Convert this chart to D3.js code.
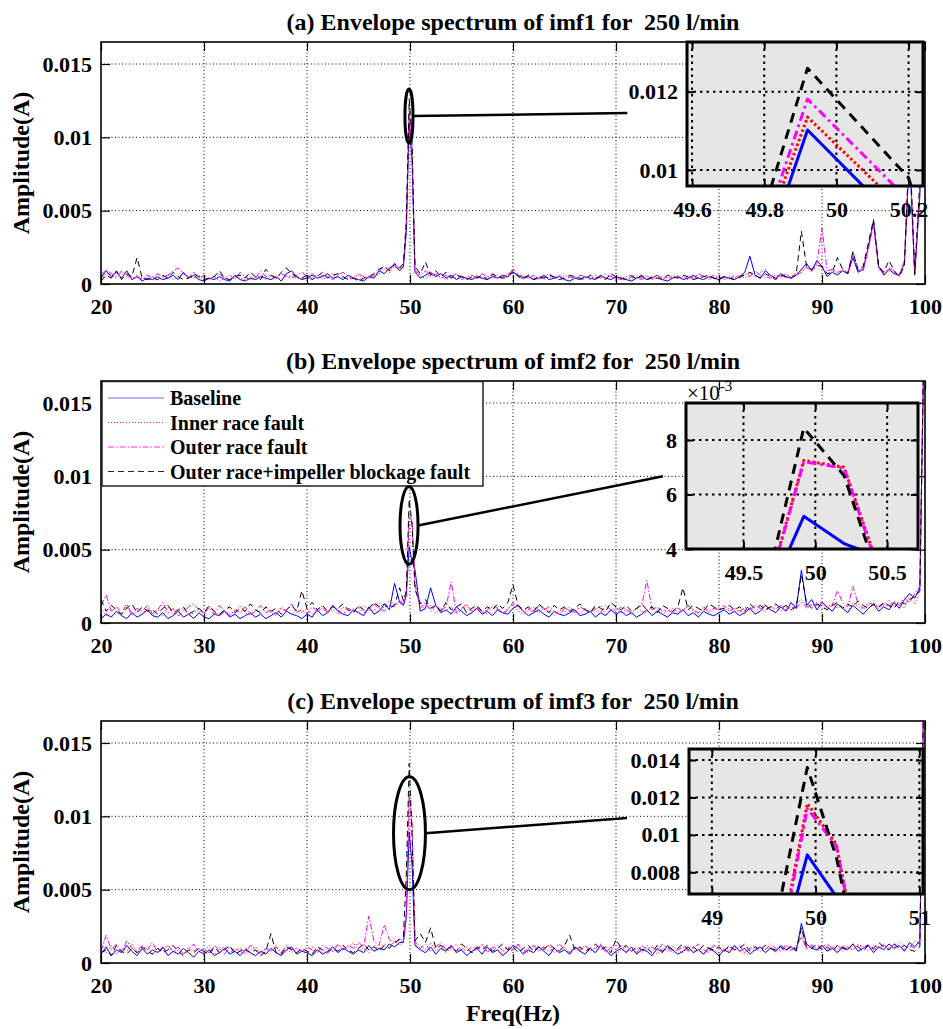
<!DOCTYPE html>
<html><head><meta charset="utf-8">
<script src="https://cdn.jsdelivr.net/npm/d3@7/dist/d3.min.js"></script>
<style>
body{margin:0;background:#fff;}
text{font-family:"Liberation Serif","Times New Roman",serif;}
</style>
</head><body>
<script>
// ---------------- DATA ----------------
const seriesNames = ["Baseline","Inner race fault","Outer race fault","Outer race+impeller blockage fault"];
const titles = ["(a) Envelope spectrum of imf1 for  250 l/min","(b) Envelope spectrum of imf2 for  250 l/min","(c) Envelope spectrum of imf3 for  250 l/min"];
const xTicks = [20,30,40,50,60,70,80,90,100];
const yTicks = [0,0.005,0.01,0.015];
const yTickLabels = ["0","0.005","0.01","0.015"];

// frequency bins (Hz): 0.5 Hz grid away from the 50 Hz line, fine bins around it
const freqLow = d3.range(20, 49.01, 0.5);
const freqPeak = [49.36, 49.64, 49.92, 50.20, 50.48];
const freqHigh = d3.range(51, 100.01, 0.5);
const freq = freqLow.concat(freqPeak, freqHigh);

// amplitudes in units of 1e-4 A  (low | peak | high)
const baseline1 = [
4,9,5,8,4,9,3,5,2,4, 3,5,3,4,6,3,8,4,6,3, 2,4,3,5,3,2,6,3,2,4, 3,5,4,3,5,2,7,9,5,3, 4,6,4,5,7,4,5,3,6,4, 3,2,5,4,9,7,11,13,9,
12,35,110.2,84.2,8,
4,6,8,5,7,4,6,3,5,4, 3,5,4,3,5,4,6,5,8,6, 4,5,3,4,6,3,4,5,3,2, 4,3,5,4,3,6,4,3,5,4, 3,2,4,5,3,4,6,3,2,4,
5,3,4,6,4,3,5,4,3,5, 4,3,5,8,19,6,4,9,6,4, 7,5,4,6,10,14,9,16,12,5, 8,6,9,7,18,8,10,25,43,12, 6,10,7,6,14,90,6,60,220];
const inner1 = [
3,7,6,4,8,5,3,6,4,3, 5,3,4,6,3,5,7,5,4,6, 3,4,5,2,4,3,5,4,3,5, 4,6,3,5,4,3,6,5,4,3, 5,4,6,3,5,7,4,5,3,4, 6,3,4,5,7,10,8,12,10,
11,43,113.5,88.7,9,
5,4,7,6,5,3,5,4,6,3, 4,6,3,5,4,6,3,5,9,5, 3,6,4,5,3,5,4,3,6,4, 5,3,4,6,3,5,4,6,3,5, 4,3,5,4,6,3,4,5,3,6,
4,5,3,5,4,6,3,4,5,3, 5,4,6,4,7,5,8,10,5,4, 6,4,5,8,9,12,8,13,11,6, 9,7,10,8,20,9,11,26,42,11, 7,9,8,5,15,92,7,62,230];
const outer1 = [
6,10,7,5,9,6,4,5,3,6, 4,7,5,6,9,11,7,5,8,4, 6,3,5,7,4,6,3,8,5,3, 4,9,5,6,4,7,5,4,6,8, 5,7,4,6,5,3,6,8,5,4, 7,5,4,6,9,12,10,13,11,
13,41,118.1,92.3,10,
6,9,5,7,4,6,5,7,3,5, 6,4,7,5,6,4,5,7,10,7, 5,4,6,3,5,7,4,6,3,5, 4,6,5,3,6,4,7,5,4,3, 5,6,4,3,5,4,6,3,5,4,
6,3,5,4,7,5,4,6,4,5, 3,6,4,7,5,9,6,5,4,6, 5,7,4,6,8,11,10,14,38,9, 10,8,9,7,22,10,9,24,40,10, 8,11,9,6,16,95,8,65,240];
const blockage1 = [
2,6,4,9,3,7,5,18,4,3, 4,3,6,4,8,5,3,4,7,5, 3,4,5,9,4,3,5,6,4,8, 5,3,10,6,4,8,11,7,5,4, 6,3,5,8,4,6,7,5,3,4, 2,4,5,7,10,12,9,14,11,
14,42,126,98,12,
7,15,6,9,5,8,4,6,5,3, 5,4,6,3,7,5,4,6,9,5, 4,6,3,5,4,6,5,3,4,6, 5,4,3,6,4,5,3,7,5,4, 3,5,4,6,3,5,4,3,6,5,
4,6,5,3,4,5,6,4,3,5, 4,3,5,6,8,6,4,7,5,3, 6,5,4,7,36,12,10,13,12,7, 8,18,10,7,22,9,12,28,44,12, 8,16,9,5,12,100,7,70,250];

const baseline2 = [
3,6,4,8,5,3,7,4,6,9, 5,4,7,3,5,8,4,6,3,7, 4,3,6,5,8,4,6,3,5,7, 4,6,3,5,7,4,8,6,5,3, 6,4,9,5,7,12,8,6,5,9, 7,5,11,6,8,13,9,27,14,
12,18.6,52,42,36.5,
8,10,24,12,7,9,6,11,8,5, 7,10,6,8,5,9,7,6,10,12, 8,5,7,9,6,4,8,6,5,7, 9,5,6,8,4,7,5,9,6,8, 5,7,4,6,9,5,8,6,4,7,
6,9,5,7,4,8,6,5,7,9, 6,8,5,7,10,6,8,12,9,7, 11,8,14,10,36,12,16,9,14,11, 8,13,10,7,12,9,6,10,13,8, 11,9,14,10,16,20,17,24,230];
const inner2 = [
10,5,9,7,6,11,5,8,6,10, 7,9,5,12,6,8,10,5,7,9, 6,11,7,5,9,6,8,12,7,5, 9,6,10,7,5,11,8,6,9,7, 10,6,8,12,7,9,6,11,8,10, 7,12,9,8,14,10,16,12,15,
14,20,72.5,70,27,
14,9,12,7,10,8,11,6,9,12, 7,10,8,6,11,9,7,10,13,8, 6,9,11,7,10,8,5,9,7,11, 8,6,10,7,9,12,6,8,11,7, 9,6,10,8,7,11,9,6,8,10,
7,9,12,8,6,10,7,9,11,8, 10,7,9,6,11,8,10,13,9,12, 8,11,9,13,16,10,12,14,9,11, 13,10,12,8,14,11,9,12,15,10, 12,16,11,14,10,18,13,21,240];
const outer2 = [
12,19,8,11,7,13,6,10,8,12, 6,9,14,7,10,5,8,11,13,9, 7,10,6,12,8,5,9,7,11,6, 8,12,7,9,6,10,8,13,7,9, 6,11,8,10,7,12,9,6,10,8, 11,7,9,13,10,8,12,11,15,
13,19.5,72,69.7,26,
10,14,8,12,9,11,28,7,10,13, 8,11,7,9,12,10,6,9,14,11, 8,10,7,12,9,11,8,6,10,9, 7,11,9,8,10,7,12,9,8,11, 9,7,10,12,29,9,11,8,9,7,
10,8,12,9,7,11,8,10,9,12, 8,10,7,11,9,12,10,8,11,9, 12,9,11,10,14,11,13,12,15,10, 12,22,14,11,25,13,10,14,12,11, 13,11,15,12,17,14,20,25,250];
const blockage2 = [
16,8,12,9,6,10,13,7,11,8, 9,6,10,12,7,9,11,6,8,10, 7,12,8,6,9,11,7,10,8,13, 9,7,11,8,10,6,9,12,8,22, 10,14,9,12,8,11,10,13,9,7, 12,9,10,14,11,13,10,12,24,
15,22,84.4,67,23,
13,16,10,12,8,14,9,11,13,7, 10,12,8,11,9,13,10,14,26,12, 9,11,8,13,10,7,12,9,11,8, 10,13,9,7,12,10,8,14,11,9, 12,8,10,13,9,11,7,12,10,8,
11,24,9,12,10,8,13,11,9,10, 12,9,11,8,13,10,12,9,11,13, 10,12,9,11,33,14,10,13,11,9, 12,14,10,13,11,15,12,10,13,11, 14,12,10,15,13,16,18,22,245];

const baseline3 = [
6,11,5,9,7,12,8,5,10,6, 9,7,11,5,8,6,10,7,4,8, 6,9,5,7,10,6,8,5,9,7, 5,8,6,10,7,5,9,11,6,8, 7,5,9,6,8,11,7,10,8,6, 9,7,12,8,10,9,13,11,14,
14,31,89.3,67,12,
9,7,11,6,10,8,12,7,9,5, 8,10,6,11,7,9,5,8,12,10, 6,9,7,11,8,5,10,7,9,6, 11,8,6,10,7,12,9,5,8,10, 7,11,6,9,8,5,10,7,12,9,
6,8,11,7,9,6,10,8,5,9, 7,12,8,10,6,9,11,7,10,8, 12,9,11,8,27,13,10,9,12,8, 10,7,11,9,13,8,10,12,7,11, 9,13,10,12,8,14,11,15,240];
const inner3 = [
9,7,12,6,10,8,13,7,9,11, 6,10,8,12,7,9,6,11,8,10, 7,12,6,9,11,7,10,8,6,9, 11,7,10,8,12,6,9,7,10,8, 6,11,9,7,10,8,12,9,11,14, 8,10,7,12,9,13,11,15,12,
16,35,116.8,95,14,
12,9,14,8,11,7,10,13,9,11, 7,10,12,8,11,9,6,10,8,12, 9,7,11,8,10,12,7,9,11,6, 10,8,12,9,7,11,8,10,6,9, 11,8,10,7,12,9,6,10,8,11,
9,7,12,8,10,6,11,9,7,10, 8,11,9,6,10,12,8,9,11,7, 10,12,8,11,22,9,13,10,12,9, 11,8,12,10,9,13,11,8,12,10, 13,9,11,14,12,10,15,13,250];
const outer3 = [
8,19,9,13,7,15,10,8,12,9, 14,7,10,12,8,11,6,9,13,8, 10,7,12,9,6,11,8,10,7,12, 9,6,10,8,11,7,12,9,10,8, 11,9,7,12,10,8,13,9,12,10, 14,11,32,15,12,26,16,13,17,
15,33,114.1,94.1,13,
10,13,8,11,14,9,12,7,10,8, 11,9,13,7,10,12,8,11,9,13, 7,10,12,9,11,8,10,13,9,7, 11,9,12,8,10,13,7,11,9,12, 8,10,7,12,9,11,8,13,10,7,
9,11,8,10,13,9,7,12,10,8, 11,9,12,7,10,8,11,9,13,10, 8,12,9,11,18,10,12,8,11,13, 10,12,8,11,9,12,10,13,9,11, 12,10,13,11,9,12,10,14,260];
const blockage3 = [
7,9,5,12,8,6,10,7,11,8, 6,10,7,9,12,8,5,9,7,10, 8,6,11,7,9,12,6,8,10,7, 9,5,8,20,7,6,11,9,7,10, 8,6,11,9,7,10,8,12,9,7, 10,13,9,11,8,12,10,14,16,
18,60,136,88,15,
20,14,24,10,12,9,11,8,13,10, 7,11,9,12,8,10,13,9,11,7, 10,12,8,11,9,13,10,8,12,19, 9,11,8,10,13,9,11,7,16,10, 12,8,11,9,10,7,12,8,11,9,
10,13,9,11,8,12,10,9,11,8, 12,9,10,13,8,11,9,12,10,9, 11,8,12,9,24,11,10,13,9,11, 8,12,10,9,13,11,8,12,10,14, 11,9,13,10,12,9,8,11,245];

const panelSeries = [
  [baseline1, inner1, outer1, blockage1],
  [baseline2, inner2, outer2, blockage2],
  [baseline3, inner3, outer3, blockage3]
];

// zoom insets
const insetXDomain = [[49.586,50.24],[49.1,50.715],[48.78,51.035]];
const insetYDomain = [[0.00959,0.01327],[0.004,0.00936],[0.00684,0.01459]];
const insetXTicks = [[49.6,49.8,50,50.2],[49.5,50,50.5],[49,50,51]];
const insetXLabels = [["49.6","49.8","50","50.2"],["49.5","50","50.5"],["49","50","51"]];
const insetYTicks = [[0.01,0.012],[0.004,0.006,0.008],[0.008,0.01,0.012,0.014]];
const insetYLabels = [["0.01","0.012"],["4","6","8"],["0.008","0.01","0.012","0.014"]];
// zoom-region ellipse (data units) and connector end (data units)
const ellipseX = [[49.51,50.29],[49.03,50.78],[48.4,51.5]];
const ellipseY = [[0.0096,0.0133],[0.0040,0.0093],[0.0050,0.0127]];
const connectorEnd = [[71.1,0.01166],[74.56,0.0100],[71.07,0.00988]];

// ---------------- STYLE / LAYOUT ----------------
const W = 943, H = 1029, L = 101, R = 925;
const panelTop = [42, 381, 721], panelBottom = [284, 623, 963];
const insetBox = [{x0:687,x1:923,y0:42,y1:186},{x0:686,x1:918,y0:403,y1:549},{x0:689,x1:923,y0:749,y1:894}];
const colors = ["#0000ff","#ff0000","#ff00ff","#000000"];
const mainDash = [null,"1,2","6,2,1.5,2","6,4"];
const insetDash = [null,"2.5,2.5","9,4,2.5,4","10,7"];
const FONT = '"Liberation Serif","Times New Roman",serif';

const svg = d3.select("body").append("svg").attr("width",W).attr("height",H);
svg.append("rect").attr("width",W).attr("height",H).attr("fill","#fff");
const defs = svg.append("defs");

function styleAxis(sel, size, showText){
  sel.select(".domain").remove();
  sel.selectAll(".tick line").attr("stroke","#000").attr("stroke-width",1.2);
  sel.selectAll(".tick text").attr("fill","#000").style("font-family",FONT)
     .style("font-size",size+"px").style("font-weight","bold");
  if(!showText) sel.selectAll(".tick text").remove();
}

panelSeries.forEach((series, pi) => {
  const top = panelTop[pi], bot = panelBottom[pi];
  const x = d3.scaleLinear().domain([20,100]).range([L,R]);
  const y = d3.scaleLinear().domain([0,0.0165]).range([bot,top]);
  const g = svg.append("g");

  // grid
  g.append("g").selectAll("line").data(xTicks.filter(t=>t>20&&t<100)).join("line")
    .attr("x1",d=>x(d)).attr("x2",d=>x(d)).attr("y1",top).attr("y2",bot)
    .attr("stroke","#000").attr("stroke-width",1).attr("stroke-dasharray","1,2.5");
  g.append("g").selectAll("line").data(yTicks.filter(t=>t>0)).join("line")
    .attr("x1",L).attr("x2",R).attr("y1",d=>y(d)).attr("y2",d=>y(d))
    .attr("stroke","#000").attr("stroke-width",1).attr("stroke-dasharray","1,2.5");

  // series
  const cid = "clipMain"+pi;
  defs.append("clipPath").attr("id",cid).append("rect")
    .attr("x",L).attr("y",top).attr("width",R-L).attr("height",bot-top);
  const line = d3.line().x(d=>x(d[0])).y(d=>y(d[1]));
  const lg = g.append("g").attr("clip-path",`url(#${cid})`);
  series.forEach((vals, si) => {
    const pts = vals.map((v,i)=>[freq[i], v*1e-4]);
    lg.append("path").attr("d",line(pts)).attr("fill","none")
      .attr("stroke",colors[si]).attr("stroke-width",1)
      .attr("stroke-dasharray",mainDash[si]).attr("stroke-linejoin","round");
  });

  // axes (inward ticks)
  g.append("g").attr("transform",`translate(0,${bot})`)
    .call(d3.axisBottom(x).tickValues(xTicks).tickSize(-9).tickPadding(14).tickFormat(d3.format("d")))
    .call(s=>styleAxis(s,22,true));
  g.append("g").attr("transform",`translate(0,${top})`)
    .call(d3.axisTop(x).tickValues(xTicks).tickSize(-9))
    .call(s=>styleAxis(s,22,false));
  g.append("g").attr("transform",`translate(${L},0)`)
    .call(d3.axisLeft(y).tickValues(yTicks).tickSize(-9).tickPadding(9).tickFormat((d,i)=>yTickLabels[i]))
    .call(s=>styleAxis(s,22,true));
  g.append("g").attr("transform",`translate(${R},0)`)
    .call(d3.axisRight(y).tickValues(yTicks).tickSize(-9))
    .call(s=>styleAxis(s,22,false));
  g.append("rect").attr("x",L).attr("y",top).attr("width",R-L).attr("height",bot-top)
    .attr("fill","none").attr("stroke","#000").attr("stroke-width",1.6);

  // title & y label
  g.append("text").attr("x",(L+R)/2).attr("y",top-12).attr("text-anchor","middle")
    .style("font-family",FONT).style("font-size","24px").style("font-weight","bold")
    .style("white-space","pre").attr("xml:space","preserve").text(titles[pi]);
  g.append("text").attr("transform",`translate(29,${(top+bot)/2}) rotate(-90)`)
    .attr("text-anchor","middle")
    .style("font-family",FONT).style("font-size","24px").style("font-weight","bold")
    .text("Amplitude(A)");

  // legend (panel b)
  if(pi===1){
    const lgd = g.append("g");
    lgd.append("rect").attr("x",L+1).attr("y",top+0.5).attr("width",381).attr("height",104.5)
      .attr("fill","#fff").attr("stroke","#222").attr("stroke-width",1.5);
    seriesNames.forEach((n,si)=>{
      const ry = top + 17 + si*24.5;
      lgd.append("line").attr("x1",L+7).attr("x2",L+63).attr("y1",ry).attr("y2",ry)
        .attr("stroke",colors[si]).attr("stroke-width",1).attr("stroke-opacity",si===0?0.6:0.85)
        .attr("stroke-dasharray",mainDash[si]);
      lgd.append("text").attr("x",L+69).attr("y",ry+7)
        .style("font-family",FONT).style("font-size","20px").style("font-weight","bold").text(n);
    });
  }

  // zoom ellipse and connector
  const ex0 = x(ellipseX[pi][0]), ex1 = x(ellipseX[pi][1]);
  const ey0 = y(ellipseY[pi][1]), ey1 = y(ellipseY[pi][0]);
  const cx = (ex0+ex1)/2, cy = (ey0+ey1)/2, rx = (ex1-ex0)/2, ryy = (ey1-ey0)/2;
  g.append("ellipse").attr("cx",cx).attr("cy",cy).attr("rx",rx).attr("ry",ryy)
    .attr("fill","none").attr("stroke","#000").attr("stroke-width",3);
  g.append("line").attr("x1",cx+rx).attr("y1",cy)
    .attr("x2",x(connectorEnd[pi][0])).attr("y2",y(connectorEnd[pi][1]))
    .attr("stroke","#000").attr("stroke-width",2.5);

  // inset
  const b = insetBox[pi];
  const ix = d3.scaleLinear().domain(insetXDomain[pi]).range([b.x0,b.x1]);
  const iy = d3.scaleLinear().domain(insetYDomain[pi]).range([b.y1,b.y0]);
  const ig = g.append("g");
  ig.append("rect").attr("x",b.x0).attr("y",b.y0).attr("width",b.x1-b.x0).attr("height",b.y1-b.y0)
    .attr("fill","#e6e6e6");
  ig.append("g").selectAll("line").data(insetXTicks[pi]).join("line")
    .attr("x1",d=>ix(d)).attr("x2",d=>ix(d)).attr("y1",b.y0).attr("y2",b.y1)
    .attr("stroke","#000").attr("stroke-width",2).attr("stroke-dasharray","2.5,4");
  ig.append("g").selectAll("line").data(insetYTicks[pi]).join("line")
    .attr("x1",b.x0).attr("x2",b.x1).attr("y1",d=>iy(d)).attr("y2",d=>iy(d))
    .attr("stroke","#000").attr("stroke-width",2).attr("stroke-dasharray","2.5,4");
  const icid = "clipInset"+pi;
  defs.append("clipPath").attr("id",icid).append("rect")
    .attr("x",b.x0).attr("y",b.y0).attr("width",b.x1-b.x0).attr("height",b.y1-b.y0);
  const iline = d3.line().x(d=>ix(d[0])).y(d=>iy(d[1]));
  const ilg = ig.append("g").attr("clip-path",`url(#${icid})`);
  series.forEach((vals, si) => {
    const pts = vals.map((v,i)=>[freq[i], v*1e-4]);
    ilg.append("path").attr("d",iline(pts)).attr("fill","none")
      .attr("stroke",colors[si]).attr("stroke-width",3)
      .attr("stroke-dasharray",insetDash[si]).attr("stroke-linejoin","round");
  });
  ig.append("g").attr("transform",`translate(0,${b.y1})`)
    .call(d3.axisBottom(ix).tickValues(insetXTicks[pi]).tickSize(-7).tickPadding(15).tickFormat((d,i)=>insetXLabels[pi][i]))
    .call(s=>styleAxis(s,22,true));
  ig.append("g").attr("transform",`translate(0,${b.y0})`)
    .call(d3.axisTop(ix).tickValues(insetXTicks[pi]).tickSize(-7))
    .call(s=>styleAxis(s,22,false));
  ig.append("g").attr("transform",`translate(${b.x0},0)`)
    .call(d3.axisLeft(iy).tickValues(insetYTicks[pi]).tickSize(-7).tickPadding(9).tickFormat((d,i)=>insetYLabels[pi][i]))
    .call(s=>styleAxis(s,22,true));
  ig.append("g").attr("transform",`translate(${b.x1},0)`)
    .call(d3.axisRight(iy).tickValues(insetYTicks[pi]).tickSize(-7))
    .call(s=>styleAxis(s,22,false));
  ig.selectAll(".tick line").attr("stroke-width",2);
  ig.append("rect").attr("x",b.x0).attr("y",b.y0).attr("width",b.x1-b.x0).attr("height",b.y1-b.y0)
    .attr("fill","none").attr("stroke","#000").attr("stroke-width",3);

  if(pi===1){
    const t = ig.append("text").attr("x",b.x0+1).attr("y",b.y0-3)
      .style("font-family",FONT).style("font-size","21px");
    t.append("tspan").text("\u00d710");
    t.append("tspan").attr("dy",-9).style("font-size","15px").text("-3");
  }
});

svg.append("text").attr("x",(L+R)/2).attr("y",1021).attr("text-anchor","middle")
  .style("font-family",FONT).style("font-size","24px").style("font-weight","bold")
  .text("Freq(Hz)");
</script>
</body></html>
